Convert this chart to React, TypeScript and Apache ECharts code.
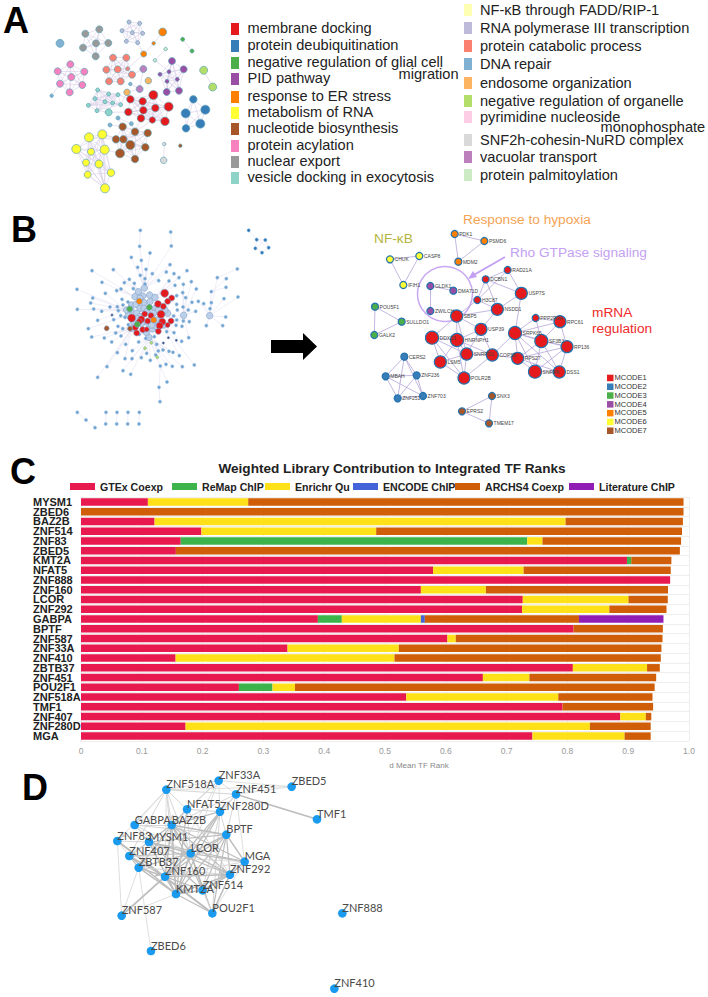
import React, { useEffect, useRef } from "react";
import * as echarts from "echarts";

type Pt = [number, number, number?];
type Cluster = { pts: Pt[]; color: string; size: number; clique?: boolean };

/* ---------- Panel A: enrichment network (coordinates on a 690x660 plane) ---------- */
const aGrey: Pt[] = [[256, 101], [298, 88], [288, 130], [325, 129], [249, 143], [287, 169]];
const aLavender: Pt[] = [[387, 66], [419, 70], [366, 92], [397, 98], [428, 100], [379, 124], [413, 128]];
const aSalmon: Pt[] = [[339, 173], [379, 173], [319, 209], [353, 208], [383, 206, 4], [396, 224], [327, 244], [362, 244]];
const aPink: Pt[] = [[211, 193], [173, 214], [253, 215], [214, 231], [180, 251], [247, 255], [209, 277]];
const aPurple: Pt[] = [[516, 183], [551, 208], [507, 215, 4], [480, 223, 4], [532, 238, 4], [501, 244, 4], [500, 276], [537, 272]];
const aPurple2: Pt[] = [[430, 207, 7], [419, 267, 7]];
const aTeal: Pt[] = [[293, 270], [326, 282], [354, 284], [285, 296], [315, 305], [338, 309], [362, 314], [265, 316], [291, 332]];
const aTealBig: Pt[] = [[326, 337]];
const aRed: Pt[] = [[391, 298], [428, 304], [460, 285, 9], [506, 320, 9], [430, 331], [466, 324], [385, 336], [423, 355], [457, 360, 6.5], [495, 364, 8.5]];
const aBlue: Pt[] = [[580, 298], [616, 329, 9], [557, 340, 9], [601, 371, 9], [558, 385]];
const aBrown: Pt[] = [[368, 380], [405, 395], [443, 399], [348, 418], [370, 418], [391, 435, 9], [436, 442], [360, 460, 9], [405, 477]];
const aBrownSat: Pt[] = [[354, 354], [330, 375], [394, 371]];
const aYellow: Pt[] = [[267, 412, 9], [307, 403, 9], [229, 447, 9], [314, 449, 9], [273, 455, 7], [258, 488, 7], [297, 492, 8], [263, 524, 7], [333, 518, 7.5], [315, 565, 9]];
const aLime: Pt[] = [[611, 211], [638, 261]];
const aGreen: Pt[] = [[548, 118], [576, 153]];
const aOrange: Pt[] = [[488, 96, 8], [461, 130, 3.5], [431, 162, 6]];
const aOrangeLight: Pt[] = [[445, 242], [381, 277]];
const aPale: Pt[] = [[497, 147], [465, 181]];
const aSkyBig: Pt[] = [[180, 130]];
const aSkySmall: Pt[] = [[155, 287], [391, 252]];
const aGreyLight: Pt[] = [[491, 481]];
const aPaleSmall: Pt[] = [[493, 432]];
const aBrownSmall: Pt[] = [[541, 437]];
const aBridges: [Pt, Pt][] = [
  [[155, 287], [180, 251]], [[488, 96, 8], [461, 130, 3.5]], [[461, 130, 3.5], [431, 162, 6]], [[431, 162, 6], [413, 128]],
  [[431, 162, 6], [383, 206, 4]], [[465, 181], [507, 215, 4]], [[497, 147], [465, 181]], [[430, 207, 7], [419, 267, 7]],
  [[430, 207, 7], [396, 224]], [[419, 267, 7], [391, 252]], [[419, 267, 7], [381, 277]], [[381, 277], [362, 314]],
  [[381, 277], [391, 298]], [[326, 337], [338, 309]], [[326, 337], [385, 336]], [[326, 337], [291, 332]],
  [[354, 354], [368, 380]], [[330, 375], [368, 380]], [[394, 371], [405, 395]], [[354, 354], [394, 371]],
  [[267, 412, 9], [348, 418]], [[307, 403, 9], [348, 418]], [[314, 449, 9], [360, 460, 9]], [[307, 403, 9], [370, 418]],
  [[315, 565, 9], [297, 492, 8]], [[315, 565, 9], [263, 524, 7]], [[493, 432], [491, 481]], [[430, 331], [391, 298]],
  [[391, 298], [354, 284]], [[457, 360, 6.5], [405, 395]], [[423, 355], [405, 395]],
];
const aClusters: Cluster[] = [
  { pts: aGrey, color: "#999999", size: 7, clique: true },
  { pts: aLavender, color: "#BEBADA", size: 4, clique: true },
  { pts: aSalmon, color: "#FB8072", size: 7, clique: true },
  { pts: aPink, color: "#F781BF", size: 7, clique: true },
  { pts: aPurple, color: "#984EA3", size: 7, clique: true },
  { pts: aPurple2, color: "#BC80BD", size: 7 },
  { pts: aTeal, color: "#8DD3C7", size: 4, clique: true },
  { pts: aTealBig, color: "#8DD3C7", size: 7 },
  { pts: aRed, color: "#E41A1C", size: 7.5, clique: true },
  { pts: aBlue, color: "#377EB8", size: 7.5, clique: true },
  { pts: aBrown, color: "#A65628", size: 7.5, clique: true },
  { pts: aBrownSat, color: "#80B1D3", size: 4 },
  { pts: aYellow, color: "#FFFF33", size: 8, clique: true },
  { pts: aLime, color: "#B3DE69", size: 8, clique: true },
  { pts: aGreen, color: "#4DAF4A", size: 4, clique: true },
  { pts: aOrange, color: "#FF7F00", size: 7 },
  { pts: aOrangeLight, color: "#FDB462", size: 6.5 },
  { pts: aPale, color: "#CCEBC5", size: 3.5 },
  { pts: aSkyBig, color: "#80B1D3", size: 8 },
  { pts: aSkySmall, color: "#80B1D3", size: 3.5 },
  { pts: aGreyLight, color: "#D9D9D9", size: 6.5 },
  { pts: aPaleSmall, color: "#D9D9D9", size: 3.5 },
  { pts: aBrownSmall, color: "#A65628", size: 3.5 },
];

const legendLeft = ["membrane docking", "protein deubiquitination", "negative regulation of glial cell", "PID pathway", "response to ER stress", "metabolism of RNA", "nucleotide biosynthesis", "protein acylation", "nuclear export", "vesicle docking in exocytosis"];
const legendLeftColors = ["#E41A1C", "#377EB8", "#4DAF4A", "#984EA3", "#FF7F00", "#FFFF33", "#A65628", "#F781BF", "#999999", "#8DD3C7"];
const legendLeftY = [28, 45, 62, 78, 96, 112, 128, 145, 161, 177];
const legendRight = ["NF-κB through FADD/RIP-1", "RNA polymerase III transcription", "protein catabolic process", "DNA repair", "endosome organization", "negative regulation of organelle", "pyrimidine nucleoside", "SNF2h-cohesin-NuRD complex", "vacuolar transport", "protein palmitoylation"];
const legendRightColors = ["#FFFFB3", "#BEBADA", "#FB8072", "#80B1D3", "#FDB462", "#B3DE69", "#FCCDE5", "#D9D9D9", "#BC80BD", "#CCEBC5"];
const legendRightY = [10, 28, 46, 64, 83, 101, 117, 140, 157, 175];

/* ---------- Panel B left: whole PPI network (900x690 plane) ---------- */
const bHubs: Pt[] = [[433, 234], [428, 258], [449, 255], [465, 262], [395, 285], [408, 283], [420, 295], [432, 278], [432, 295], [465, 295], [475, 300], [503, 310], [447, 382], [439, 367], [457, 357], [393, 300], [385, 315], [410, 310], [440, 305], [460, 310], [425, 340], [400, 335], [395, 355], [420, 320], [445, 340], [470, 330], [470, 350], [490, 345], [551, 316], [629, 317], [405, 260], [415, 245], [450, 275], [380, 300], [410, 325], [455, 345], [495, 300], [420, 265]];
const bPeriphery: Pt[] = [
  [419, 109], [514, 108], [394, 142], [450, 129], [424, 151], [510, 164], [413, 172], [438, 178], [276, 182], [340, 179], [561, 182], [421, 196], [457, 191], [499, 186], [522, 191], [652, 203], [537, 203], [306, 217], [373, 218], [388, 208], [435, 206], [476, 212], [507, 213], [574, 215], [403, 220], [231, 238], [316, 250], [350, 242], [363, 237], [400, 236], [435, 222], [525, 226], [550, 223], [589, 237], [634, 245], [278, 264], [272, 279], [232, 298], [281, 297], [305, 304], [330, 291], [352, 290], [366, 268], [369, 285], [384, 276],
  [672, 266], [714, 261], [595, 274], [576, 277], [557, 263], [548, 248], [530, 257], [611, 281], [634, 278], [630, 296], [587, 304], [565, 300], [530, 283], [532, 300], [549, 291], [677, 321], [619, 347], [668, 347], [550, 333], [568, 335], [521, 318], [530, 330], [528, 346], [546, 349],
  [293, 331], [265, 356], [275, 381], [313, 384], [335, 396], [347, 369], [363, 378], [341, 329], [355, 302], [362, 317], [375, 322], [368, 356], [385, 344], [354, 349], [377, 403], [352, 428], [397, 422], [375, 446], [396, 446], [424, 443], [440, 430], [321, 470], [293, 502], [369, 482], [392, 493], [451, 451], [416, 396], [437, 385], [418, 373], [463, 380], [470, 403], [489, 420], [507, 424], [519, 427], [538, 437], [566, 383], [545, 394], [522, 368], [500, 365], [481, 468], [498, 463], [517, 469], [547, 470], [583, 465], [467, 435], [475, 423],
];
const bOutliers: Pt[] = [[421, 61], [512, 66], [712, 177], [679, 206], [678, 232], [501, 516], [477, 532], [480, 575]];
const bOutlierLinks: [Pt, Pt][] = [
  [[421, 61], [419, 109]], [[512, 66], [514, 108]], [[712, 177], [652, 203]], [[679, 206], [634, 245]], [[678, 232], [634, 245]],
  [[501, 516], [481, 468]], [[477, 532], [481, 468]], [[480, 575], [477, 532]],
];
const bRed: Pt[] = [[494, 250, 8], [515, 264, 6], [503, 274, 6], [474, 282, 7], [490, 289, 6], [483, 313, 8], [395, 324, 8], [453, 317, 6], [434, 312, 6], [513, 333, 6], [487, 335, 7], [479, 347, 7], [503, 345, 5], [443, 333, 6], [424, 328, 7], [418, 335, 6], [406, 353, 6], [410, 369, 6], [428, 359, 6], [440, 358, 5], [475, 364, 6]];
const bOrange: Pt[] = [[418, 274], [461, 330]];
const bGreen: Pt[] = [[389, 297], [448, 292], [412, 343]];
const bBrown: Pt[] = [[320, 355], [390, 356]];
const bDark: Pt[] = [[336, 315], [505, 383], [490, 399], [529, 391]];
const bLime: Pt[] = [[435, 415], [454, 398], [472, 442]];
const bPairs: Pt[] = [[232, 607], [258, 630], [285, 653], [318, 607], [317, 642], [351, 607], [350, 642], [384, 607], [383, 642], [418, 607], [417, 642]];
const bPairLinks: [number, number][] = [[0, 1], [1, 2], [3, 4], [5, 6], [7, 8], [9, 10]];
const bPentagon: Pt[] = [[746, 61], [770, 89], [796, 90], [766, 115], [806, 113], [786, 128]];
const bPentagonLinks: [number, number][] = [[0, 1], [1, 2], [1, 3], [2, 4], [3, 5], [4, 5], [1, 4], [2, 3]];

/* ---------- Panel B right: MCODE modules (1104x720 plane) ---------- */
type Named = [string, number, number, number?];
const mOrange: Named[] = [["PDK1", 344, 87], ["PSMD6", 433, 108], ["MDM2", 355, 170]];
const mYellow: Named[] = [["CHUK", 150, 163], ["CASP8", 238, 153], ["IFIH1", 190, 240]];
const mPurple: Named[] = [["GLDK1", 271, 243], ["DMA71D", 340, 257], ["ZWILCH", 271, 318]];
const mGreen: Named[] = [["POU5F1", 105, 305], ["SULLDO1", 185, 350], ["GALK2", 103, 390]];
const mBlue: Named[] = [["CERS2", 193, 455], ["MBAH", 137, 514], ["ZNF236", 230, 511], ["ZNF251", 173, 580], ["ZNF703", 249, 573]];
const mBrown: Named[] = [["SNX3", 456, 573], ["EPRS2", 366, 619], ["TMEM17", 447, 655]];
const mRed: Named[] = [
  ["RAD21A", 503, 195, 7], ["DCBN1", 437, 223, 7], ["USP7S", 544, 265, 12], ["H3C87", 412, 285, 7], ["NSDD1", 472, 313, 12],
  ["SBP5", 350, 333, 12], ["USP39", 423, 373, 12], ["DDX23", 276, 398, 13], ["HNRNPH1", 351, 405, 13], ["SRPK65", 525, 384, 13],
  ["PPP2R2A", 587, 339, 7], ["RPC61", 660, 350, 12], ["SF3B3", 604, 408, 13], ["RP136", 681, 425, 12], ["SNRPD1", 380, 447, 12],
  ["COPS5", 457, 450, 12], ["RPS27", 533, 460, 12], ["LSM5", 301, 471, 12], ["POLR2B", 372, 519, 12], ["SNRPA", 585, 500, 13], ["DSS1", 658, 501, 12],
];
const mRedEdges: [string, string][] = [
  ["RAD21A", "DCBN1"], ["RAD21A", "USP7S"], ["RAD21A", "H3C87"], ["DCBN1", "USP7S"], ["DCBN1", "H3C87"], ["DCBN1", "NSDD1"], ["H3C87", "NSDD1"], ["USP7S", "NSDD1"], ["H3C87", "SBP5"], ["NSDD1", "SBP5"], ["USP7S", "SRPK65"], ["PPP2R2A", "SRPK65"], ["PPP2R2A", "RPC61"], ["PPP2R2A", "SF3B3"], ["RPC61", "SF3B3"], ["RPC61", "RP136"], ["RPC61", "SRPK65"], ["SRPK65", "SF3B3"], ["SRPK65", "RPS27"], ["SRPK65", "RP136"], ["SRPK65", "SNRPA"], ["SRPK65", "DSS1"], ["SF3B3", "RP136"], ["SF3B3", "RPS27"], ["SF3B3", "SNRPA"], ["SF3B3", "DSS1"], ["RP136", "DSS1"], ["RP136", "RPS27"], ["RP136", "SNRPA"], ["RPS27", "SNRPA"], ["RPS27", "DSS1"], ["SNRPA", "DSS1"], ["COPS5", "RPS27"], ["COPS5", "SRPK65"], ["COPS5", "SNRPD1"], ["COPS5", "USP39"], ["COPS5", "HNRNPH1"], ["COPS5", "POLR2B"], ["SNRPD1", "HNRNPH1"], ["SNRPD1", "DDX23"], ["SNRPD1", "LSM5"], ["SNRPD1", "POLR2B"], ["SNRPD1", "USP39"], ["HNRNPH1", "DDX23"], ["HNRNPH1", "LSM5"], ["HNRNPH1", "POLR2B"], ["HNRNPH1", "SBP5"], ["HNRNPH1", "USP39"], ["DDX23", "LSM5"], ["DDX23", "POLR2B"], ["DDX23", "SBP5"], ["LSM5", "POLR2B"], ["SBP5", "USP39"], ["SBP5", "SNRPD1"], ["NSDD1", "USP39"],
];
const mcodeNames = ["MCODE1", "MCODE2", "MCODE3", "MCODE4", "MCODE5", "MCODE6", "MCODE7"];
const mcodeColors = ["#E41A1C", "#377EB8", "#4DAF4A", "#984EA3", "#FF7F00", "#FFFF33", "#A65628"];

/* ---------- Panel C: stacked bars ---------- */
const tfNames = ["MYSM1", "ZBED6", "BAZ2B", "ZNF514", "ZNF83", "ZBED5", "KMT2A", "NFAT5", "ZNF888", "ZNF160", "LCOR", "ZNF292", "GABPA", "BPTF", "ZNF587", "ZNF33A", "ZNF410", "ZBTB37", "ZNF451", "POU2F1", "ZNF518A", "TMF1", "ZNF407", "ZNF280D", "MGA"];
const gtex = [0.11, 0, 0.121, 0.198, 0.164, 0.156, 0.898, 0.579, 0.969, 0.559, 0.7266, 0.7255, 0.3896, 0.81, 0.6027, 0.3397, 0.1556, 0.809, 0.661, 0.2597, 0.535, 0.792, 0.887, 0.172, 0.7425];
const remap = [0, 0, 0, 0, 0.57, 0, 0.007, 0, 0, 0, 0, 0, 0.0394, 0, 0, 0, 0, 0, 0, 0.0553, 0, 0, 0, 0, 0];
const enrichr = [0.165, 0, 0.676, 0.2875, 0.025, 0, 0, 0.149, 0, 0.107, 0.174, 0.1435, 0.13, 0, 0.0137, 0.183, 0.36, 0.122, 0.0765, 0.037, 0.25, 0, 0.042, 0.665, 0.1515];
const encode = [0, 0, 0, 0, 0, 0, 0, 0, 0, 0, 0, 0, 0.0065, 0, 0, 0, 0, 0, 0, 0, 0, 0, 0, 0, 0];
const archs4 = [0.716, 0.991, 0.193, 0.503, 0.228, 0.829, 0.066, 0.242, 0, 0.2995, 0.0645, 0.094, 0.2535, 0.147, 0.34, 0.432, 0.438, 0.021, 0.2085, 0.5915, 0.155, 0.149, 0.009, 0.1, 0.043];
const literature = [0, 0, 0, 0, 0, 0, 0, 0, 0, 0, 0, 0, 0.139, 0, 0, 0, 0, 0, 0, 0, 0, 0, 0, 0, 0];
const libraries: [string, number[], string, number][] = [
  ["GTEx Coexp", gtex, "#E8194F", 70],
  ["ReMap ChIP", remap, "#3CB44B", 172],
  ["Enrichr Qu", enrichr, "#FFE119", 265],
  ["ENCODE ChIP", encode, "#4363D8", 353],
  ["ARCHS4 Coexp", archs4, "#D05E08", 455],
  ["Literature ChIP", literature, "#911EB4", 569],
];

/* ---------- Panel D: TF co-regulation network (1200x681 plane) ---------- */
const dNodes: Named[] = [
  ["ZNF518A", 499, 59], ["ZNF33A", 656, 32], ["ZBED5", 875, 50], ["ZNF451", 708, 73], ["TMF1", 951, 148], ["NFAT5", 561, 118], ["ZNF280D", 660, 125], ["GABPA", 404, 165], ["BAZ2B", 515, 165], ["ZNF83", 352, 213], ["MYSM1", 447, 216], ["BPTF", 679, 194], ["ZNF407", 388, 258], ["LCOR", 572, 250], ["MGA", 734, 275], ["ZBTB37", 416, 293], ["ZNF160", 495, 320], ["ZNF292", 690, 314], ["ZNF514", 608, 361], ["KMT2A", 528, 372], ["POU2F1", 637, 430], ["ZNF587", 365, 437], ["ZBED6", 453, 543], ["ZNF888", 1027, 430], ["ZNF410", 1003, 656],
];
const dEdges: [string, string, number, number?][] = [
  ["ZNF451", "TMF1", 1.5], ["ZNF33A", "ZBED5", 0.8], ["ZNF518A", "ZBED5", 0.8], ["ZNF451", "ZBED5", 0.8], ["ZNF518A", "ZNF33A", 0.8], ["ZNF518A", "ZNF451", 1], ["ZNF33A", "ZNF451", 0.8],
  ["ZNF518A", "GABPA", 0.8, 1], ["ZNF518A", "BAZ2B", 1, 1], ["ZNF518A", "NFAT5", 1], ["ZNF518A", "ZNF83", 0.8, 1], ["ZNF518A", "ZNF407", 1], ["ZNF518A", "LCOR", 1], ["ZNF518A", "KMT2A", 1], ["ZNF518A", "ZNF160", 0.8],
  ["ZNF33A", "NFAT5", 1], ["ZNF33A", "BAZ2B", 1], ["ZNF33A", "ZNF280D", 0.8], ["ZNF33A", "LCOR", 0.8], ["ZNF33A", "ZNF160", 0.8],
  ["ZNF451", "ZNF280D", 1], ["ZNF451", "BAZ2B", 1], ["ZNF451", "LCOR", 1], ["ZNF451", "BPTF", 1], ["ZNF451", "MGA", 0.8],
  ["NFAT5", "BAZ2B", 1.2], ["NFAT5", "LCOR", 1], ["NFAT5", "ZNF280D", 1], ["NFAT5", "KMT2A", 1.2], ["NFAT5", "ZNF292", 1], ["NFAT5", "ZBTB37", 1],
  ["ZNF280D", "BAZ2B", 1.2], ["ZNF280D", "LCOR", 1.2], ["ZNF280D", "BPTF", 1], ["ZNF280D", "ZNF160", 1.2], ["ZNF280D", "KMT2A", 1.2], ["ZNF280D", "ZNF514", 1], ["ZNF280D", "POU2F1", 1],
  ["GABPA", "BAZ2B", 1], ["GABPA", "MYSM1", 0.8], ["GABPA", "LCOR", 1], ["GABPA", "BPTF", 1], ["GABPA", "ZNF514", 1],
  ["BAZ2B", "BPTF", 1.5], ["BAZ2B", "LCOR", 1.5], ["BAZ2B", "MGA", 1.2], ["BAZ2B", "ZNF292", 1.2], ["BAZ2B", "ZNF160", 1.5], ["BAZ2B", "KMT2A", 1.5], ["BAZ2B", "ZNF514", 1.2], ["BAZ2B", "ZNF407", 1.2], ["BAZ2B", "ZBTB37", 1.2],
  ["ZNF83", "MYSM1", 1], ["ZNF83", "ZNF587", 0.8], ["ZNF83", "POU2F1", 1.8], ["ZNF83", "ZNF407", 0.8], ["ZNF83", "ZNF160", 1.2],
  ["MYSM1", "LCOR", 1.5], ["MYSM1", "BPTF", 1.2], ["MYSM1", "MGA", 1.2], ["MYSM1", "ZNF292", 1.2], ["MYSM1", "ZNF514", 1.2], ["MYSM1", "KMT2A", 1.5], ["MYSM1", "ZNF407", 1], ["MYSM1", "ZBTB37", 1],
  ["BPTF", "LCOR", 1.5], ["BPTF", "MGA", 1.5], ["BPTF", "ZNF292", 1.2], ["BPTF", "ZNF514", 1.2], ["BPTF", "POU2F1", 1.2], ["BPTF", "ZNF160", 1.2], ["BPTF", "KMT2A", 1.2],
  ["ZNF407", "LCOR", 1.2, 1], ["ZNF407", "ZNF160", 1.5], ["ZNF407", "ZBTB37", 1.2], ["ZNF407", "KMT2A", 1.5], ["ZNF407", "MGA", 0.8],
  ["LCOR", "MGA", 1.2], ["LCOR", "ZNF292", 1.5, 1], ["LCOR", "ZNF160", 1.8], ["LCOR", "ZNF514", 1.5], ["LCOR", "KMT2A", 1.8], ["LCOR", "POU2F1", 1.2], ["LCOR", "ZBTB37", 1.2],
  ["MGA", "ZNF292", 1.5], ["MGA", "ZNF514", 1], ["MGA", "POU2F1", 0.8], ["MGA", "ZNF160", 1],
  ["ZBTB37", "ZNF160", 1.5, 1], ["ZBTB37", "ZNF587", 0.8], ["ZBTB37", "ZBED6", 0.8], ["ZBTB37", "KMT2A", 1.5], ["ZBTB37", "ZNF292", 1, 1],
  ["ZNF160", "ZNF587", 1.8], ["ZNF160", "ZNF292", 1.5, 1], ["ZNF160", "ZNF514", 1.5], ["ZNF160", "KMT2A", 1.5], ["ZNF160", "POU2F1", 1.2],
  ["ZNF292", "ZNF514", 1.5], ["ZNF292", "KMT2A", 1.5, 1], ["ZNF292", "POU2F1", 1.5],
  ["ZNF514", "KMT2A", 1.5], ["ZNF514", "POU2F1", 1], ["KMT2A", "POU2F1", 1.2], ["KMT2A", "ZNF587", 0.8],
];

const FONT = "Liberation Sans, Arial, sans-serif";

function clusterNet(clusters: Cluster[], border: string, bridges: [Pt, Pt][]) {
  const nodes: any[] = [];
  const links: any[] = [];
  const index = new Map<string, number>();
  clusters.forEach((c) => {
    const ids: number[] = [];
    c.pts.forEach((p) => {
      const id = nodes.length;
      nodes.push({
        name: "n" + id,
        value: [p[0], p[1]],
        symbolSize: p[2] ?? c.size,
        itemStyle: { color: c.color, borderColor: border, borderWidth: 0.7 },
      });
      index.set(p[0] + "," + p[1], id);
      ids.push(id);
    });
    if (c.clique) ids.forEach((a, i) => ids.slice(i + 1).forEach((b) => links.push({ source: a, target: b })));
  });
  bridges.forEach(([a, b]) => links.push({ source: index.get(a[0] + "," + a[1]), target: index.get(b[0] + "," + b[1]) }));
  return { nodes, links };
}

function hiddenAxes(w: number, h: number) {
  return {
    x: { type: "value", gridIndex: 0, show: false, min: 0, max: w },
    y: { type: "value", gridIndex: 0, show: false, min: 0, max: h, inverse: true },
  };
}

function graphSeries(idx: number, nodes: any[], links: any[], edge: any, extra: any = {}) {
  return {
    type: "graph",
    coordinateSystem: "cartesian2d",
    xAxisIndex: idx,
    yAxisIndex: idx,
    layout: "none",
    silent: true,
    roam: false,
    data: nodes,
    links,
    lineStyle: { opacity: 1, ...edge },
    ...extra,
  };
}

function buildOption() {
  /* A */
  const a = clusterNet(aClusters, "#5FA3B8", aBridges);

  /* B left */
  const bl: any[] = [];
  const blLinks: any[] = [];
  const bKey = new Map<string, number>();
  const addB = (pts: Pt[], color: string, size: number, border = "#8FB4D6") => {
    const start = bl.length;
    pts.forEach((p) => {
      bKey.set(p[0] + "," + p[1], bl.length);
      bl.push({ name: "b" + bl.length, value: [p[0], p[1]], symbolSize: p[2] ?? size, itemStyle: { color, borderColor: border, borderWidth: 0.6 } });
    });
    return start;
  };
  const hubStart = addB(bHubs, "#BBD0E8", 6.5, "#7F9CC8");
  const nearestHub = (p: Pt) => {
    let best = 0;
    let d = Infinity;
    bHubs.forEach((h, i) => {
      const v = (h[0] - p[0]) ** 2 + (h[1] - p[1]) ** 2;
      if (v < d) { d = v; best = i; }
    });
    return hubStart + best;
  };
  const periStart = addB(bPeriphery, "#6FA3D2", 3.2, "#A5C4E2");
  bPeriphery.forEach((p, i) => blLinks.push({ source: periStart + i, target: nearestHub(p) }));
  addB(bOutliers, "#6FA3D2", 3.2, "#A5C4E2");
  bOutlierLinks.forEach(([a2, b2]) => blLinks.push({ source: bKey.get(a2[0] + "," + a2[1]), target: bKey.get(b2[0] + "," + b2[1]) }));
  bHubs.forEach((_, i) => { if (i % 3 === 0) blLinks.push({ source: hubStart + i, target: hubStart + ((i + 7) % bHubs.length) }); });
  const pairStart = addB(bPairs, "#6FA3D2", 3.2, "#A5C4E2");
  bPairLinks.forEach(([s, t]) => blLinks.push({ source: pairStart + s, target: pairStart + t }));
  const pentStart = addB(bPentagon, "#2E78B8", 3.2, "#7FB0D8");
  bPentagonLinks.forEach(([s, t]) => blLinks.push({ source: pentStart + s, target: pentStart + t }));
  addB(bRed, "#E41A1C", 6, "#7F9CC8");
  addB(bOrange, "#FF7F00", 6, "#7F9CC8");
  addB(bGreen, "#4DAF4A", 6, "#7F9CC8");
  addB(bBrown, "#A65628", 5, "#7F9CC8");
  addB(bDark, "#3F4A80", 2.4, "#7F9CC8");
  addB(bLime, "#B3DE69", 3, "#7FB0A0");

  /* B right */
  const mGroups: [Named[], string, number][] = [
    [mRed, "#E41A1C", 12], [mBlue, "#377EB8", 7], [mGreen, "#4DAF4A", 7], [mPurple, "#984EA3", 7], [mOrange, "#FF7F00", 7], [mYellow, "#FFFF33", 7], [mBrown, "#A65628", 7],
  ];
  const mNodes: any[] = [];
  const mLinks: any[] = [];
  mGroups.forEach(([g, color, size]) => {
    g.forEach((n) => mNodes.push({
      name: n[0],
      value: [n[1], n[2]],
      symbolSize: n[3] ?? size,
      itemStyle: { color, borderColor: "#2272AE", borderWidth: 1.2 },
      label: { show: true, position: "right", distance: 0.5, fontSize: 5, color: "#444", fontFamily: FONT },
    }));
    if (g !== mRed) g.forEach((x, i) => g.slice(i + 1).forEach((y) => {
      if (!(g === mPurple && i === 1)) mLinks.push({ source: x[0], target: y[0] });
    }));
  });
  mRedEdges.forEach(([s, t]) => mLinks.push({ source: s, target: t }));

  /* D */
  const dSeriesNodes = dNodes.map((n) => ({
    name: n[0],
    value: [n[1], n[2]],
    symbolSize: 8.6,
    itemStyle: { color: "#1A9BF0" },
    label: { show: true, position: [4.3, -1.4], align: "left", verticalAlign: "middle", fontSize: 11, color: "#4A4A4A", fontFamily: "Lato, sans-serif" },
  }));
  const dLinks = dEdges.map(([s, t, w, arrow]) => ({
    source: s,
    target: t,
    lineStyle: { width: w, opacity: 1, color: w >= 1.2 ? "#BDBDBD" : "#D6D6D6" },
    symbol: arrow ? ["none", "arrow"] : ["none", "none"],
    symbolSize: 6,
  }));

  const axA = hiddenAxes(690, 660), axB = hiddenAxes(900, 690), axM = hiddenAxes(1104, 720), axD = hiddenAxes(1200, 681);
  const withGrid = (ax: any, i: number) => ({ x: { ...ax.x, gridIndex: i }, y: { ...ax.y, gridIndex: i } });
  const nets = [axA, axB, axM, axD].map((ax, i) => withGrid(ax, i + 1));

  const legendText = (t: string, x: number, y: number) => ({
    type: "text", x, y,
    style: { text: t, fontSize: 14.6, fontFamily: FONT, fill: "#222", verticalAlign: "middle", align: "left" },
  });
  const swatch = (c: string, x: number, y: number) => ({ type: "rect", shape: { x, y: y - 6, width: 8, height: 12 }, style: { fill: c } });
  const heading = (t: string, x: number, y: number) => ({
    type: "text", x, y, style: { text: t, fontSize: 36, fontWeight: "bold", fontFamily: FONT, fill: "#000", verticalAlign: "middle" },
  });
  const note = (t: string, x: number, y: number, c: string) => ({
    type: "text", x, y, style: { text: t, fontSize: 13.7, fontFamily: FONT, fill: c, verticalAlign: "middle" },
  });

  return {
    animation: false,
    backgroundColor: "#fff",
    textStyle: { fontFamily: FONT },
    title: {
      text: "Weighted Library Contribution to Integrated TF Ranks",
      left: 387, top: 456, textAlign: "center",
      textStyle: { fontSize: 13.6, fontWeight: "bold", color: "#222", fontFamily: FONT },
    },
    legend: libraries.map(([name, , , left]) => ({
      data: [name], left, top: 481, padding: 0, itemWidth: 25, itemHeight: 7, icon: "rect", selectedMode: false,
      textStyle: { fontSize: 10.6, fontWeight: "bold", color: "#222", fontFamily: FONT },
    })),
    grid: [
      { left: 81, top: 497, width: 608, height: 244 },
      { left: 0, top: 0, width: 230, height: 220 },
      { left: 0, top: 210, width: 300, height: 230 },
      { left: 340, top: 205, width: 368, height: 240 },
      { left: 0, top: 770, width: 400, height: 227 },
    ],
    xAxis: [
      {
        type: "value", gridIndex: 0, min: 0, max: 1, interval: 0.1,
        axisLine: { show: false }, axisTick: { show: false },
        splitLine: { show: true, lineStyle: { color: "#EEEEEE", width: 1 } },
        axisLabel: { fontSize: 8.5, color: "#999", margin: 5, formatter: (v: number) => (v === 0 ? "0" : v.toFixed(1)) },
        name: "d Mean TF Rank", nameLocation: "middle", nameGap: 20,
        nameTextStyle: { fontSize: 8, color: "#888", padding: [0, 0, 0, 68] },
      },
      ...nets.map((n) => n.x),
    ],
    yAxis: [
      {
        type: "category", gridIndex: 0, data: tfNames, inverse: true,
        axisLine: { show: true, lineStyle: { color: "#EEEEEE" } }, axisTick: { show: false },
        splitLine: { show: true, lineStyle: { color: "#EEEEEE", width: 1 } },
        axisLabel: { fontSize: 11, fontWeight: "bold", color: "#222", align: "left", margin: 48, interval: 0, fontFamily: FONT },
      },
      ...nets.map((n) => n.y),
    ],
    graphic: {
      elements: [
        heading("A", 3, 20), heading("B", 11, 229), heading("C", 10, 471), heading("D", 22, 787),
        ...legendLeft.flatMap((t, i) => [swatch(legendLeftColors[i], 231, legendLeftY[i] + 1), legendText(t, 247.5, legendLeftY[i])]),
        legendText("migration", 398.5, 74),
        ...legendRight.flatMap((t, i) => [swatch(legendRightColors[i], 464, legendRightY[i]), legendText(t, 480, legendRightY[i])]),
        legendText("monophosphate", 600.5, 127),
        note("Response to hypoxia", 463, 219.5, "#F5A355"),
        note("NF-κB", 374, 238, "#B5B53E"),
        note("Rho GTPase signaling", 510, 252, "#C3A1F2"),
        note("mRNA", 592, 312, "#EE2A2A"),
        note("regulation", 592, 328, "#EE2A2A"),
        { type: "circle", shape: { cx: 445, cy: 294, r: 27.5 }, style: { fill: "none", stroke: "#C8A8F2", lineWidth: 1.5 } },
        { type: "line", shape: { x1: 505, y1: 257, x2: 472, y2: 276 }, style: { stroke: "#C3A1F2", lineWidth: 2 } },
        { type: "polygon", shape: { points: [[468, 279], [473, 271], [477, 277]] }, style: { fill: "#C3A1F2" } },
        { type: "polygon", shape: { points: [[271, 340], [303, 340], [303, 333], [317, 346.5], [303, 360], [303, 353], [271, 353]] }, style: { fill: "#000" } },
        ...mcodeNames.flatMap((t, i) => {
          const y = 377.7 + i * 8.8;
          return [
            { type: "rect", shape: { x: 607, y: y - 3, width: 6.5, height: 6.5 }, style: { fill: mcodeColors[i] } },
            { type: "text", x: 614.5, y, style: { text: t, fontSize: 7.5, fontFamily: FONT, fill: "#333", verticalAlign: "middle" } },
          ];
        }),
      ],
    },
    series: [
      ...libraries.map(([name, data, color]) => ({
        type: "bar", name, stack: "rank", xAxisIndex: 0, yAxisIndex: 0, data, barWidth: 7.5, silent: true,
        itemStyle: { color },
      })),
      graphSeries(1, a.nodes, a.links, { color: "#D8CFE8", width: 0.6 }),
      graphSeries(2, bl, blLinks, { color: "#E6E2F3", width: 0.6 }),
      graphSeries(3, mNodes, mLinks, { color: "#B5A5D8", width: 0.8 }),
      graphSeries(4, dSeriesNodes, dLinks, { color: "#C8C8C8", width: 1 }),
    ],
  };
}

export default function App() {
  const ref = useRef<HTMLDivElement>(null);
  useEffect(() => {
    document.body.style.margin = "0";
    const chart = echarts.init(ref.current!, undefined, { renderer: "svg" });
    chart.setOption(buildOption() as any);
    return () => chart.dispose();
  }, []);
  return <div ref={ref} style={{ width: 708, height: 997, position: "absolute", left: 0, top: 0 }} />;
}
